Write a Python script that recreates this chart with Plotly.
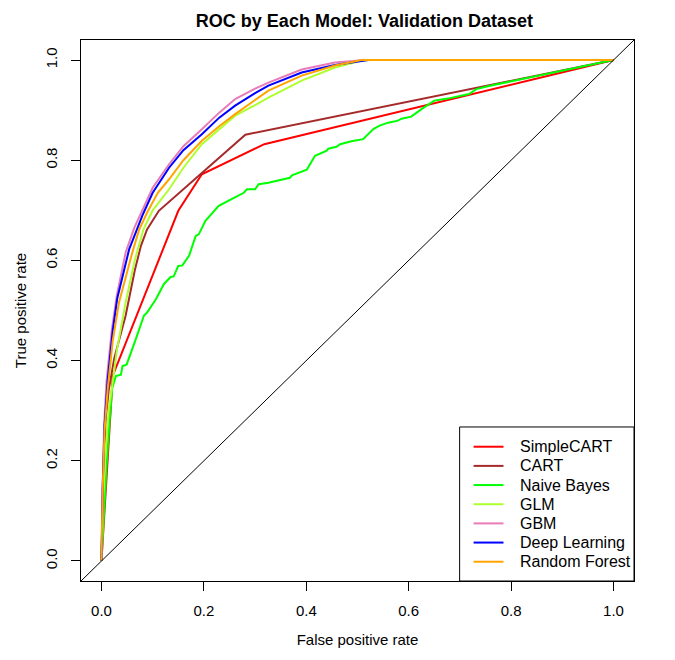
import plotly.graph_objects as go

# ---- ROC curve points (FPR, TPR) ----
models = ["SimpleCART", "CART", "Naive Bayes", "GLM", "GBM", "Deep Learning", "Random Forest"]
colors = ["#FF0000", "#A52A2A", "#00FF00", "#ADFF2F", "#E87BB9", "#0000FF", "#FFA500"]

simplecart_fpr = [0.0, 0.022, 0.150, 0.196, 0.318, 1.0]
simplecart_tpr = [0.0, 0.370, 0.699, 0.772, 0.832, 1.0]

cart_fpr = [0.0, 0.004, 0.008, 0.014, 0.025, 0.047, 0.065, 0.077, 0.089, 0.112, 0.281, 1.0]
cart_tpr = [0.0, 0.180, 0.280, 0.340, 0.405, 0.489, 0.580, 0.629, 0.662, 0.699, 0.851, 1.0]

nb_fpr = [0.0, 0.004, 0.010, 0.016, 0.021, 0.028, 0.038, 0.041, 0.049, 0.066, 0.083, 0.089,
          0.106, 0.122, 0.135, 0.141, 0.150, 0.158, 0.171, 0.184, 0.190, 0.203, 0.229, 0.255,
          0.278, 0.284, 0.300, 0.307, 0.326, 0.368, 0.372, 0.401, 0.417, 0.440, 0.443, 0.459,
          0.466, 0.488, 0.511, 0.531, 0.543, 0.560, 0.579, 0.586, 0.605, 0.625, 0.641, 0.650,
          0.676, 0.718, 0.732, 0.761, 1.0]
nb_tpr = [0.0, 0.080, 0.190, 0.280, 0.345, 0.369, 0.372, 0.389, 0.392, 0.440, 0.490, 0.496,
          0.522, 0.553, 0.567, 0.568, 0.589, 0.590, 0.609, 0.649, 0.652, 0.679, 0.709, 0.723,
          0.735, 0.742, 0.742, 0.752, 0.755, 0.765, 0.770, 0.781, 0.809, 0.819, 0.823, 0.827,
          0.832, 0.838, 0.842, 0.862, 0.869, 0.875, 0.879, 0.883, 0.887, 0.902, 0.912, 0.919,
          0.923, 0.932, 0.942, 0.949, 1.0]

glm_fpr = [0.0, 0.003, 0.008, 0.014, 0.021, 0.030, 0.047, 0.065, 0.082, 0.100, 0.132, 0.160,
           0.196, 0.230, 0.261, 0.300, 0.326, 0.391, 0.456, 0.508, 0.530, 1.0]
glm_tpr = [0.0, 0.120, 0.220, 0.300, 0.350, 0.420, 0.515, 0.600, 0.662, 0.700, 0.742, 0.785,
           0.832, 0.862, 0.889, 0.910, 0.925, 0.959, 0.985, 0.999, 1.0, 1.0]

gbm_fpr = [0.0, 0.002, 0.005, 0.010, 0.020, 0.030, 0.047, 0.064, 0.080, 0.100, 0.132, 0.160,
           0.196, 0.230, 0.261, 0.300, 0.326, 0.391, 0.456, 0.514, 1.0]
gbm_tpr = [0.0, 0.150, 0.270, 0.360, 0.460, 0.530, 0.615, 0.665, 0.700, 0.745, 0.792, 0.828,
           0.862, 0.895, 0.922, 0.943, 0.955, 0.981, 0.995, 1.0, 1.0]

dl_fpr = [0.0, 0.002, 0.006, 0.012, 0.022, 0.031, 0.054, 0.080, 0.100, 0.132, 0.160, 0.196,
          0.230, 0.261, 0.300, 0.326, 0.391, 0.456, 0.521, 1.0]
dl_tpr = [0.0, 0.140, 0.270, 0.360, 0.460, 0.525, 0.622, 0.690, 0.735, 0.785, 0.820, 0.852,
          0.885, 0.909, 0.934, 0.949, 0.975, 0.990, 1.0, 1.0]

rf_fpr = [0.0, 0.002, 0.006, 0.012, 0.022, 0.034, 0.060, 0.073, 0.089, 0.110, 0.132, 0.160,
          0.196, 0.230, 0.261, 0.300, 0.326, 0.391, 0.456, 0.508, 1.0]
rf_tpr = [0.0, 0.130, 0.260, 0.342, 0.440, 0.515, 0.615, 0.660, 0.695, 0.735, 0.762, 0.800,
          0.839, 0.868, 0.892, 0.920, 0.939, 0.969, 0.989, 1.0, 1.0]

fprs = [simplecart_fpr, cart_fpr, nb_fpr, glm_fpr, gbm_fpr, dl_fpr, rf_fpr]
tprs = [simplecart_tpr, cart_tpr, nb_tpr, glm_tpr, gbm_tpr, dl_tpr, rf_tpr]

tick_vals = [0.0, 0.2, 0.4, 0.6, 0.8, 1.0]
tick_text = ["0.0", "0.2", "0.4", "0.6", "0.8", "1.0"]

FONT = "Liberation Sans, Arial, sans-serif"

fig = go.Figure()

for name, col, x, y in zip(models, colors, fprs, tprs):
    fig.add_trace(go.Scatter(x=x, y=y, mode="lines", name=name, showlegend=False,
                             line=dict(color=col, width=2)))

# reference diagonal (abline 0,1) across the whole box
fig.add_shape(type="line", xref="paper", yref="paper", x0=0, y0=0, x1=1, y1=1,
              line=dict(color="black", width=1))

# legend drawn by hand (R-style, tight rows), bottom-right corner of the box
leg_left, leg_top = 0.6847, 0.2847
row0, row_step = 0.2482, 0.03543
fig.add_shape(type="rect", xref="paper", yref="paper", x0=leg_left, y0=0, x1=1, y1=leg_top,
              line=dict(color="black", width=1), fillcolor="white", layer="above")
for i, (name, col) in enumerate(zip(models, colors)):
    yy = row0 - i * row_step
    fig.add_shape(type="line", xref="paper", yref="paper", x0=0.7099, x1=0.7640, y0=yy, y1=yy,
                  line=dict(color=col, width=2), layer="above")
    fig.add_annotation(text=name, xref="paper", yref="paper", x=0.791, y=yy,
                       xanchor="left", yanchor="middle", showarrow=False,
                       font=dict(size=16, color="black"))

axis_common = dict(
    range=[-0.04, 1.04], tickvals=tick_vals, ticktext=tick_text,
    ticks="outside", ticklen=9, tickcolor="black", tickwidth=1,
    showgrid=False, zeroline=False, showline=True, linecolor="black",
    linewidth=1, mirror=True, tickfont=dict(size=15, color="black"),
)

fig.update_xaxes(**axis_common, ticklabelstandoff=7,
                 title=dict(text="False positive rate", font=dict(size=15), standoff=16))
fig.update_yaxes(**axis_common, tickangle=-90, ticklabelstandoff=8,
                 title=dict(text="True positive rate", font=dict(size=15), standoff=12))

# page has an 8px body margin, so margins are shifted to land the box where R put it
fig.update_layout(
    width=675, height=660,
    margin=dict(l=71, r=49, t=32, b=87),
    paper_bgcolor="white", plot_bgcolor="white",
    font=dict(family=FONT, color="black"),
    title=dict(text="<b>ROC by Each Model: Validation Dataset</b>", x=0.528, xanchor="center",
               y=0.981, yanchor="middle", font=dict(size=18)),
)

fig.write_html("out.html")
